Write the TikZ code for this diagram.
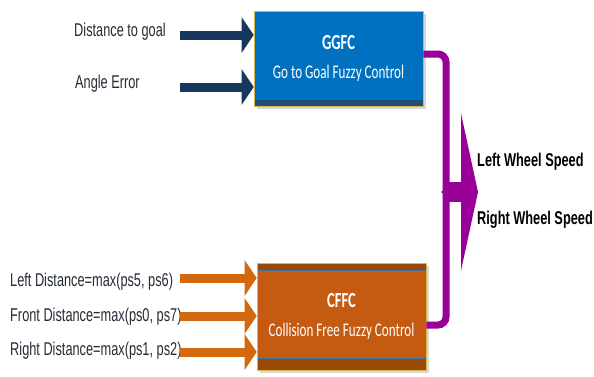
\documentclass[tikz,border=0pt]{standalone}
\usepackage{fontspec}
\setmainfont{Liberation Sans}[FakeStretch=0.69]
\newfontfamily\boxfont{Carlito}[FakeStretch=0.68]
\usetikzlibrary{arrows.meta,shadows}
\definecolor{ggfcblue}{HTML}{0070C0}
\definecolor{ggfcnavy}{HTML}{1F4E79}
\definecolor{cffcorange}{HTML}{C55A11}
\definecolor{cffcbrown}{HTML}{984807}
\definecolor{rimgold}{HTML}{D9B64E}
\definecolor{rimblue}{HTML}{41719C}
\definecolor{inblue}{HTML}{17375E}
\definecolor{inorange}{HTML}{D2690E}
\definecolor{mergepurple}{HTML}{990099}
\definecolor{labelgray}{HTML}{262C36}

\begin{document}
\begin{tikzpicture}
    [x=1pt,y=-1pt,
     inp/.style={anchor=west,inner sep=0pt,text=labelgray,font=\fontsize{18.5}{22}\selectfont},
     outp/.style={anchor=west,inner sep=0pt,font=\fontsize{18.5}{22}\selectfont\bfseries},
     ctrl/.style={rectangle,draw=rimgold,line width=0.6pt,minimum width=169pt,
       align=center,text=white,inner sep=0pt,
       font=\boxfont\fontsize{19.3}{29}\selectfont,
       drop shadow={shadow xshift=3pt,shadow yshift=-3pt,opacity=0.3}},
     feed/.style={line width=9pt,-{Triangle[length=12pt,width=35pt]}},
     bus/.style={mergepurple,line width=7pt,rounded corners=8pt}]
    \path[use as bounding box,fill=white] (0,0) rectangle (594,376);

    % fuzzy controllers
    \node [ctrl,fill=ggfcblue,minimum height=95pt,
      path picture={\fill[ggfcnavy] (path picture bounding box.south west)
        rectangle ([yshift=6pt]path picture bounding box.south east);}]
      (ggfc) at (338.5,58.5)
      {{\fontsize{21.5}{29}\selectfont\bfseries GGFC}\\Go to Goal Fuzzy Control};
    \node [ctrl,fill=cffcbrown,minimum height=107pt,
      path picture={\fill[cffcorange,draw=rimblue,line width=0.8pt]
        ([yshift=12pt]path picture bounding box.south west)
        rectangle ([yshift=-7pt]path picture bounding box.north east);}]
      (cffc) at (341.5,316.5)
      {{\fontsize{21.5}{29}\selectfont\bfseries CFFC}\\Collision Free Fuzzy Control};

    % inputs
    \node [inp] (dg) at (74,32) {Distance to goal};
    \node [inp] (ae) at (75,84) {Angle Error};
    \node [inp] (ld) at (10,282) {Left Distance=max(ps5, ps6)};
    \node [inp] (fd) at (10,317) {Front Distance=max(ps0, ps7)};
    \node [inp] (rd) at (10,351) {Right Distance=max(ps1, ps2)};
    \coordinate (dgt) at (180,35);
    \coordinate (aet) at (180,87);
    \coordinate (ldt) at (180,278);
    \coordinate (fdt) at (180,316);
    \coordinate (rdt) at (180,352);
    \draw [feed,inblue] (dgt) -- (dgt -| ggfc.west);
    \draw [feed,inblue] (aet) -- (aet -| ggfc.west);
    \draw [feed,inorange] (ldt) -- (ldt -| cffc.west);
    \draw [feed,inorange] (fdt) -- (fdt -| cffc.west);
    \draw [feed,inorange] (rdt) -- (rdt -| cffc.west);

    % merged output
    \coordinate (mg) at (446,192);
    \coordinate (out) at (478,192);
    \draw [bus] ([yshift=4.5pt]ggfc.east) -| (mg);
    \draw [bus] ([yshift=-8.5pt]cffc.east) -| (mg);
    \fill [mergepurple] (446,181) .. controls (446,188) .. (441,192)
      .. controls (446,196) .. (446,203) -- cycle;
    \draw [mergepurple,line width=20pt,-{Triangle[length=17pt,width=157pt]}] (mg) -- (out);
    \node [outp] (lws) at (477,162) {Left Wheel Speed};
    \node [outp] (rws) at (477,220) {Right Wheel Speed};
  \end{tikzpicture}
\end{document}
